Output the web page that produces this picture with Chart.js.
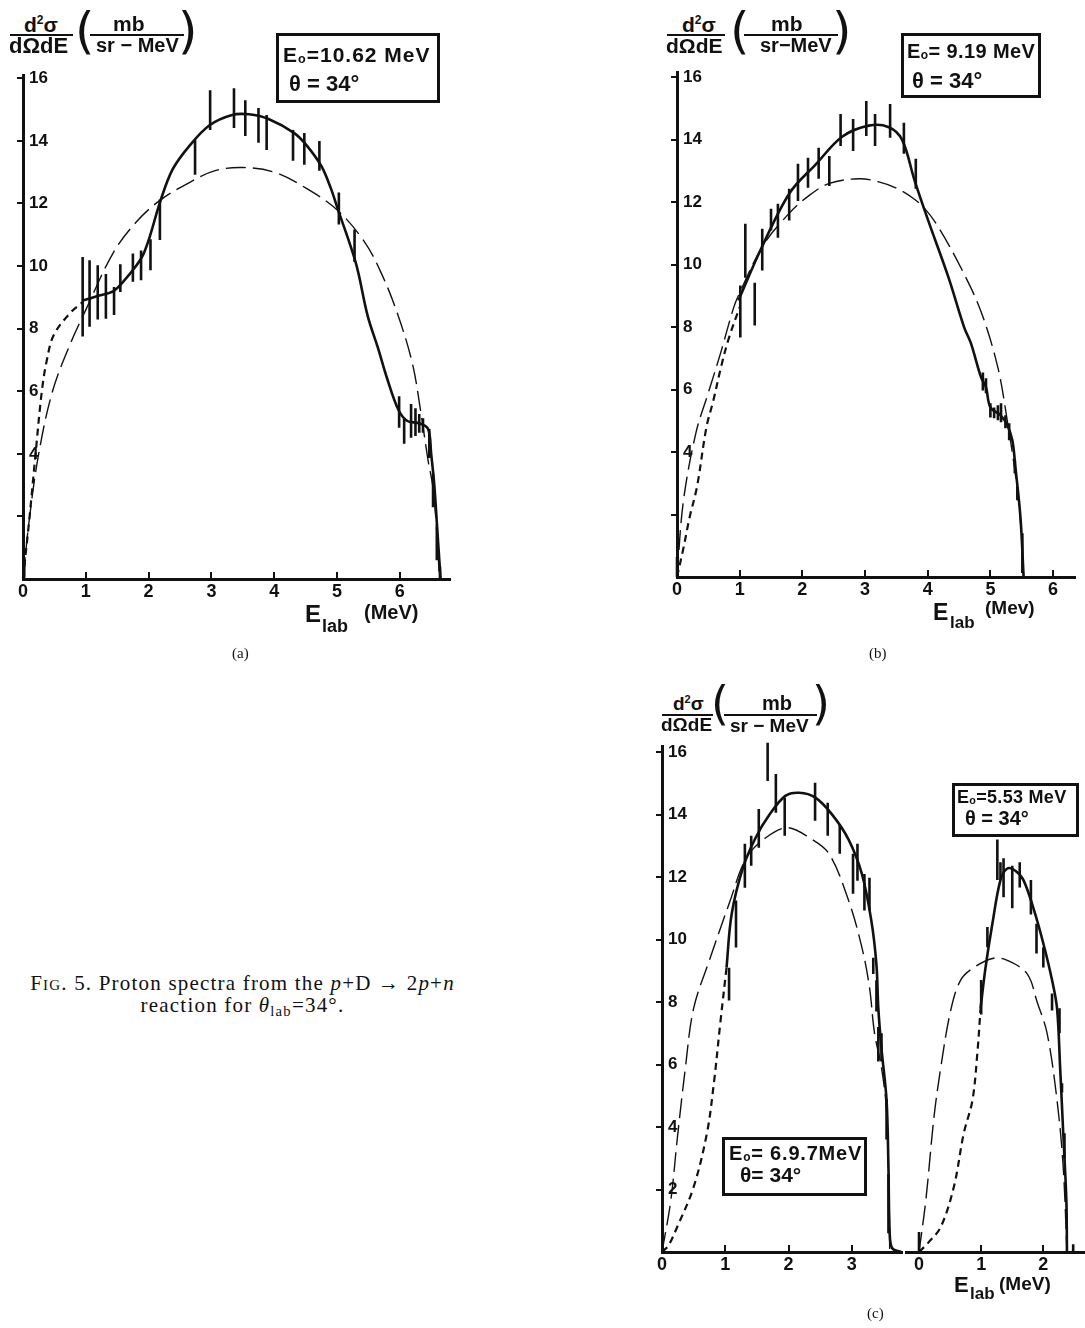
<!DOCTYPE html>
<html><head><meta charset="utf-8">
<script src="https://cdn.jsdelivr.net/npm/chart.js@4/dist/chart.umd.min.js"></script>
<style>
html,body{margin:0;padding:0;background:#fff;width:1085px;height:1328px;overflow:hidden;position:relative;font-family:"Liberation Sans",Arial,sans-serif;color:#111}
canvas{position:absolute}
.t{position:absolute;white-space:nowrap;line-height:1;font-weight:bold}
.bar{position:absolute;background:#111;height:2px}
.par{position:absolute;white-space:nowrap;line-height:1;font-weight:normal;font-family:"DejaVu Sans",sans-serif}
.box{position:absolute;border:3px solid #111;box-sizing:border-box}
.serif{position:absolute;white-space:nowrap;line-height:1;font-family:"Liberation Serif","DejaVu Serif",serif;font-weight:normal}
sub{font-size:60%;vertical-align:-0.1em}
</style></head><body>
<script>
// ---------------- DATA ----------------
// Panel (a): E0 = 10.62 MeV
const aFitE   = [0.95,1.2,1.44,1.59,1.8,1.91,2.02,2.18,2.38,2.65,2.97,3.33,3.6,3.91,4.32,4.52,4.75,4.9,5.0,5.3,5.49,5.65,5.8,5.98,6.12,6.3,6.45,6.5,6.55,6.6,6.65];
const aFitY   = [8.9,9.05,9.2,9.49,10.0,10.35,10.95,12.03,13.08,13.84,14.5,14.83,14.85,14.7,14.25,13.85,13.2,12.5,11.9,10.1,8.4,7.4,6.4,5.4,5.05,4.98,4.8,4.0,3.0,1.5,0];
const aLongE  = [0,0.1,0.25,0.47,0.75,1.0,1.43,1.8,2.18,2.65,3.06,3.5,4.0,4.5,5.0,5.43,5.7,5.96,6.2,6.33,6.45,6.53,6.6,6.63];
const aLongY  = [0,1.9,4.0,6.0,7.5,8.6,10.4,11.4,12.1,12.67,13.05,13.15,13.0,12.5,11.8,10.8,9.8,8.5,6.9,5.4,3.8,2.9,1.2,0];
const aShortE = [0,0.1,0.2,0.3,0.38,0.49,0.75,0.95];
const aShortY = [0,1.9,4.0,6.0,7.0,7.8,8.5,8.85];
const aErrE   = [0.02,0.95,1.06,1.19,1.32,1.45,1.55,1.75,1.88,2.03,2.18,2.74,2.98,3.36,3.54,3.75,3.88,4.3,4.48,4.72,5.03,5.28,5.99,6.07,6.18,6.25,6.31,6.37,6.47,6.53,6.59,6.64];
const aErrLo  = [0.05,7.75,8.06,8.29,8.32,8.44,9.17,9.5,9.55,9.87,10.83,12.92,14.35,14.41,14.16,13.94,13.71,13.37,13.24,13.05,11.33,10.13,4.83,4.32,4.51,4.57,4.67,4.67,3.87,2.29,0.6,0];
const aErrHi  = [0.7,10.29,10.19,10.03,9.75,9.33,10.06,10.4,10.5,10.86,12.13,14.03,15.62,15.68,15.3,15.05,14.83,14.35,14.25,14.0,12.35,11.17,5.84,5.14,5.59,5.46,5.27,5.14,4.79,3.37,1.65,0.4];

// Panel (b): E0 = 9.19 MeV
const bFitE   = [0.98,1.34,1.8,2.21,2.64,3.06,3.38,3.59,3.79,4.01,4.33,4.58,4.69,4.85,4.93,5.0,5.16,5.27,5.35,5.4,5.48,5.53];
const bFitY   = [8.85,10.5,12.3,13.2,14.1,14.45,14.4,14.0,12.7,11.4,9.6,8.0,7.48,6.4,6.07,5.43,5.18,4.86,4.38,3.5,1.9,0];
const bLongE  = [0,0.1,0.3,0.5,0.7,0.9,1.0,1.37,1.77,2.1,2.43,2.9,3.22,3.5,3.75,3.95,4.17,4.53,4.85,5.12,5.27,5.37,5.45,5.5,5.53];
const bLongY  = [0,2.4,4.6,5.9,7.2,8.6,9.1,10.6,11.6,12.2,12.6,12.75,12.65,12.45,12.15,11.8,11.2,9.9,8.5,6.7,5.0,3.7,2.45,1.2,0];
const bShortE = [0,0.1,0.2,0.32,0.47,0.58,0.7,0.82,1.0];
const bShortY = [0,0.9,1.9,2.9,4.8,5.65,6.7,7.6,8.64];
const bErrE   = [0.0,1.01,1.09,1.24,1.36,1.5,1.61,1.79,1.93,2.09,2.26,2.43,2.61,2.81,3.02,3.16,3.4,3.62,3.81,4.88,4.93,5.0,5.06,5.12,5.17,5.24,5.3,5.39,5.43,5.51];
const bErrLo  = [0,7.67,9.58,8.05,9.81,11.09,10.86,11.41,12.04,12.46,12.75,12.52,13.8,13.64,14.12,13.8,14.06,13.55,12.43,5.97,5.88,5.11,5.08,5.02,4.95,4.76,4.38,3.32,2.46,0.13];
const bErrHi  = [0.64,9.33,11.31,9.42,11.15,11.79,11.95,12.43,13.23,13.42,13.74,13.48,14.82,14.66,15.24,14.82,15.14,14.54,13.39,6.55,6.36,5.56,5.43,5.5,5.56,5.18,4.92,3.74,2.88,1.4];

// Panel (c), left: E0 = 6.97 MeV
const c1FitE   = [1.02,1.1,1.28,1.48,1.7,1.95,2.17,2.42,2.69,2.95,3.16,3.31,3.39,3.42,3.47,3.55,3.58,3.6,3.64,3.78];
const c1FitY   = [9.1,10.8,12.3,13.26,14.0,14.6,14.7,14.55,14.0,13.2,12.1,10.6,9.2,7.8,6.5,4.86,2.7,0.6,0.12,0];
const c1LongE  = [0,0.14,0.24,0.37,0.5,0.76,1.07,1.33,1.64,1.98,2.33,2.64,2.95,3.16,3.28,3.36,3.47,3.55,3.59,3.6];
const c1LongY  = [0,1.66,3.6,5.9,7.8,9.4,11.2,12.6,13.26,13.58,13.26,12.75,11.25,9.75,8.47,7.0,5.9,4.5,1.66,0];
const c1ShortE = [0,0.1,0.24,0.5,0.71,0.82,0.92,1.02];
const c1ShortY = [0,0.2,0.8,2.08,3.8,5.4,7.3,9.1];
const c1ErrE   = [1.06,1.17,1.31,1.41,1.53,1.67,1.8,1.94,2.42,2.62,2.81,3.02,3.09,3.2,3.28,3.34,3.39,3.42,3.47,3.55,3.58];
const c1ErrLo  = [8.05,9.75,11.66,12.36,12.94,15.08,14.06,13.32,13.8,13.32,12.75,11.47,11.88,10.93,10.93,8.9,7.7,6.1,6.1,3.6,0.6];
const c1ErrHi  = [9.1,11.25,13.07,13.32,14.18,16.3,15.3,14.54,15.02,14.38,13.7,12.75,13.07,12.1,11.98,9.42,8.7,7.2,7.0,4.9,2.5];

// Panel (c), right: E0 = 5.53 MeV
const c2FitE   = [0.99,1.07,1.18,1.31,1.42,1.55,1.68,1.84,2.0,2.14,2.22,2.27,2.32,2.37,2.38];
const c2FitY   = [7.8,9.1,10.5,11.9,12.27,12.2,11.9,11.0,9.87,8.7,7.8,5.9,3.8,1.66,0];
const c2LongE  = [0,0.11,0.24,0.35,0.51,0.67,0.88,1.2,1.42,1.74,1.9,2.06,2.22,2.32,2.38];
const c2LongY  = [0,1.66,4.3,5.9,7.73,8.7,9.1,9.4,9.33,8.9,8.0,7.0,4.86,2.7,0];
const c2ShortE = [0,0.15,0.35,0.56,0.72,0.86,0.94,0.99];
const c2ShortY = [0,0.3,0.8,2.08,3.8,4.86,6.4,7.8];
const c2ErrE   = [0.0,1.0,1.1,1.26,1.31,1.36,1.5,1.62,1.8,1.89,2.0,2.14,2.26,2.3,2.34,2.48];
const c2ErrLo  = [0,7.6,9.75,11.9,11.9,11.35,11.0,11.66,10.8,9.55,9.1,7.73,7.0,5.1,3.0,0];
const c2ErrHi  = [0.64,8.7,10.4,13.2,12.47,12.6,12.36,12.47,11.9,10.5,9.75,8.27,7.8,5.4,3.8,0.25];

// Tick values / labels
const abXTicks = [0,1,2,3,4,5,6];
const c1XTicks = [0,1,2,3];
const c2XTicks = [0,1,2];
const yTickVals = [2,4,6,8,10,12,14,16];
const abYLabels = ['','4','6','8','10','12','14','16'];
const cYLabels  = ['2','4','6','8','10','12','14','16'];

// ---------------- BUILD ----------------
const INK = '#111';
const FONT = '"Liberation Sans", Arial, sans-serif';
function pts(E, Y){ return E.map((e,i)=>({x:e,y:Y[i]})); }
function errPts(E, lo, hi){ const o=[]; E.forEach((e,i)=>{o.push({x:e,y:lo[i]},{x:e,y:hi[i]},{x:e,y:null});}); return o; }

function panel(cfg){
  const padTop=16, padRight=(cfg.padRight!==undefined?cfg.padRight:14);
  const yW = cfg.hideY ? 0 : 10, xH = 34;
  const A = cfg.area;
  const w = Math.round(A.right-A.left+yW+padRight), h = Math.round(A.bottom-A.top+padTop+xH);
  const c = document.createElement('canvas');
  c.width=w; c.height=h;
  c.style.left=(A.left-yW)+'px'; c.style.top=(A.top-padTop)+'px';
  c.style.width=w+'px'; c.style.height=h+'px';
  document.body.appendChild(c);
  const ds = [
    {data:pts(cfg.longE,cfg.longY), borderWidth:1.4, borderDash:[20,7], tension:0.35},
    {data:pts(cfg.shortE,cfg.shortY), borderWidth:2.2, borderDash:[7,5], tension:0.35},
    {data:pts(cfg.fitE,cfg.fitY), borderWidth:2.6, tension:0.35},
    {data:errPts(cfg.errE,cfg.errLo,cfg.errHi), borderWidth:2.6, tension:0, spanGaps:false}
  ].map(d=>Object.assign({borderColor:INK, pointRadius:0, fill:false, clip:false, borderCapStyle:'butt'}, d));
  new Chart(c,{
    type:'line',
    data:{datasets:ds},
    options:{
      responsive:false, animation:false, devicePixelRatio:1,
      layout:{padding:{top:padTop,right:padRight,left:0,bottom:0}},
      plugins:{legend:{display:false},tooltip:{enabled:false}},
      scales:{
        x:{type:'linear', min:cfg.xMin||0, max:cfg.xMax,
           border:{display:true,width:3,color:INK},
           grid:{drawOnChartArea:false,drawTicks:true,tickLength:-7,lineWidth:2,color:INK},
           ticks:{color:INK,padding:9,font:{family:FONT,size:18,weight:'bold'},maxRotation:0,autoSkip:false,
                  callback:(v)=>String(v)},
           afterBuildTicks:(s)=>{s.ticks=cfg.xTicks.map(v=>({value:v}));},
           afterFit:(s)=>{s.height=xH;}},
        y:{type:'linear', min:0, max:cfg.yMax, display:!cfg.hideY,
           border:{display:true,width:3,color:INK},
           grid:{drawOnChartArea:false,drawTicks:true,tickLength:6,lineWidth:2,color:INK},
           ticks:{mirror:true,padding:6,color:INK,font:{family:FONT,size:17,weight:'bold'},autoSkip:false,
                  callback:(v,i)=>cfg.yLabels[i]},
           afterBuildTicks:(s)=>{s.ticks=yTickVals.map(v=>({value:v}));},
           afterFit:(s)=>{s.width=yW;}}
      }
    }
  });
}

panel({area:{left:19,right:450,top:75,bottom:579}, xMax:6.8, yMax:16.1, xTicks:abXTicks, yLabels:abYLabels,
  fitE:aFitE,fitY:aFitY,longE:aLongE,longY:aLongY,shortE:aShortE,shortY:aShortY,errE:aErrE,errLo:aErrLo,errHi:aErrHi});
panel({area:{left:673,right:1075,top:72,bottom:577}, xMax:6.35, yMax:16.16, xTicks:abXTicks, yLabels:abYLabels, padRight:8,
  fitE:bFitE,fitY:bFitY,longE:bLongE,longY:bLongY,shortE:bShortE,shortY:bShortY,errE:bErrE,errLo:bErrLo,errHi:bErrHi});
panel({area:{left:658,right:903,top:746,bottom:1252}, xMax:3.81, yMax:16.19, xTicks:c1XTicks, yLabels:cYLabels, padRight:0,
  fitE:c1FitE,fitY:c1FitY,longE:c1LongE,longY:c1LongY,shortE:c1ShortE,shortY:c1ShortY,errE:c1ErrE,errLo:c1ErrLo,errHi:c1ErrHi});
panel({area:{left:905,right:1085,top:746,bottom:1252}, xMin:-0.21, xMax:2.67, yMax:16.19, xTicks:c2XTicks, yLabels:cYLabels, hideY:true, padRight:0,
  fitE:c2FitE,fitY:c2FitY,longE:c2LongE,longY:c2LongY,shortE:c2ShortE,shortY:c2ShortY,errE:c2ErrE,errLo:c2ErrLo,errHi:c2ErrHi});
</script>

<!-- Panel (a) y title -->
<div class="t" style="left:24px;top:14px;font-size:21px">d<sup style="font-size:12px">2</sup>σ</div>
<div class="bar" style="left:10px;top:34px;width:63px"></div>
<div class="t" style="left:9px;top:35px;font-size:22px">dΩdE</div>
<div class="par" style="left:75px;top:6px;font-size:50px">(</div>
<div class="t" style="left:113px;top:13px;font-size:21px">mb</div>
<div class="bar" style="left:90px;top:34px;width:94px"></div>
<div class="t" style="left:96px;top:35px;font-size:20px">sr − MeV</div>
<div class="par" style="left:178px;top:6px;font-size:50px">)</div>
<div class="box" style="left:276px;top:33px;width:164px;height:70px"></div>
<div class="t" style="left:283px;top:44px;font-size:21px;letter-spacing:1px">E<sub>o</sub>=10.62 MeV</div>
<div class="t" style="left:289px;top:73px;font-size:22px">θ = 34°</div>
<div class="t" style="left:305px;top:602px;font-size:24px">E</div>
<div class="t" style="left:322px;top:617px;font-size:18px">lab</div>
<div class="t" style="left:364px;top:602px;font-size:20px">(MeV)</div>
<div class="serif" style="left:232px;top:646px;font-size:15px">(a)</div>

<!-- Panel (b) -->
<div class="t" style="left:682px;top:14px;font-size:21px">d<sup style="font-size:12px">2</sup>σ</div>
<div class="bar" style="left:667px;top:34px;width:58px"></div>
<div class="t" style="left:666px;top:35px;font-size:21px">dΩdE</div>
<div class="par" style="left:730px;top:6px;font-size:50px">(</div>
<div class="t" style="left:771px;top:13px;font-size:21px">mb</div>
<div class="bar" style="left:744px;top:34px;width:94px"></div>
<div class="t" style="left:760px;top:35px;font-size:20px">sr−MeV</div>
<div class="par" style="left:832px;top:6px;font-size:50px">)</div>
<div class="box" style="left:901px;top:33px;width:140px;height:65px"></div>
<div class="t" style="left:907px;top:41px;font-size:20px;letter-spacing:0.4px">E<sub>o</sub>= 9.19 MeV</div>
<div class="t" style="left:912px;top:70px;font-size:22px">θ = 34°</div>
<div class="t" style="left:933px;top:601px;font-size:23px">E</div>
<div class="t" style="left:950px;top:614px;font-size:17px">lab</div>
<div class="t" style="left:985px;top:598px;font-size:19px">(Mev)</div>
<div class="serif" style="left:869px;top:646px;font-size:15px">(b)</div>

<!-- Panel (c) -->
<div class="t" style="left:673px;top:694px;font-size:19px">d<sup style="font-size:11px">2</sup>σ</div>
<div class="bar" style="left:662px;top:714px;width:51px"></div>
<div class="t" style="left:661px;top:715px;font-size:19px">dΩdE</div>
<div class="par" style="left:711px;top:680px;font-size:46px">(</div>
<div class="t" style="left:762px;top:693px;font-size:20px">mb</div>
<div class="bar" style="left:724px;top:714px;width:93px"></div>
<div class="t" style="left:730px;top:716px;font-size:19px">sr − MeV</div>
<div class="par" style="left:812px;top:680px;font-size:46px">)</div>
<div class="box" style="left:722px;top:1137px;width:145px;height:59px"></div>
<div class="t" style="left:729px;top:1143px;font-size:20px;letter-spacing:0.8px">E<sub>o</sub>= 6.9.7MeV</div>
<div class="t" style="left:740px;top:1164px;font-size:21px">θ= 34°</div>
<div class="box" style="left:952px;top:783px;width:127px;height:54px"></div>
<div class="t" style="left:957px;top:788px;font-size:18px;letter-spacing:0.3px">E<sub>o</sub>=5.53 MeV</div>
<div class="t" style="left:965px;top:808px;font-size:20px">θ = 34°</div>
<div class="t" style="left:954px;top:1274px;font-size:22px">E</div>
<div class="t" style="left:970px;top:1285px;font-size:17px">lab</div>
<div class="t" style="left:999px;top:1274px;font-size:19px">(MeV)</div>
<div class="serif" style="left:867px;top:1306px;font-size:15px">(c)</div>

<!-- Caption -->
<div class="serif" style="left:0;width:485px;text-align:center;top:972px;font-size:21px;line-height:22px;letter-spacing:1.2px">
<span style="font-variant:small-caps">Fig.</span> 5. Proton spectra from the <i>p</i>+D → 2<i>p</i>+<i>n</i><br>reaction for <i>θ</i><sub style="font-size:70%;vertical-align:-0.25em">lab</sub>=34°.
</div>
</body></html>
